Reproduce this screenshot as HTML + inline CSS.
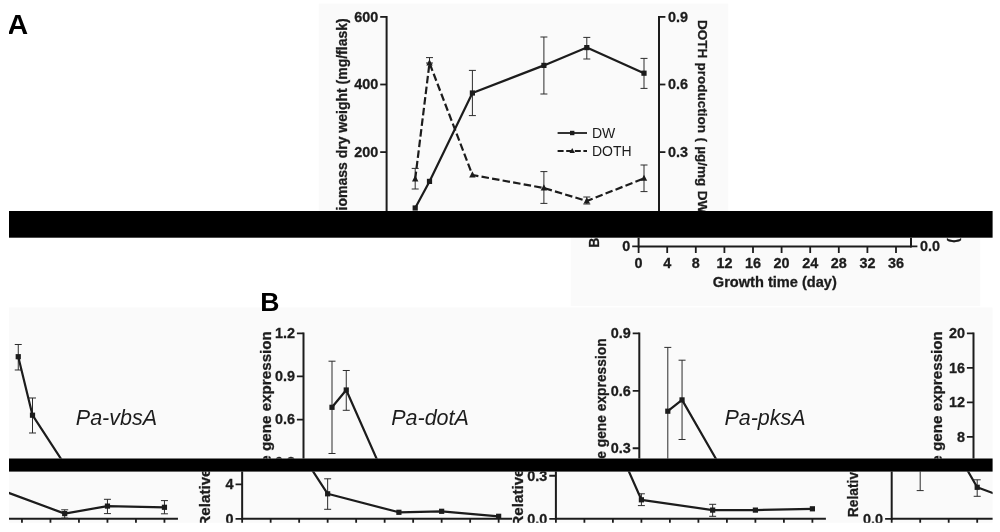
<!DOCTYPE html>
<html lang="en">
<head>
<meta charset="utf-8">
<title>Figure</title>
<style>
html,body{margin:0;padding:0;background:#fff;}
body{width:1000px;height:532px;overflow:hidden;font-family:"Liberation Sans",Arial,sans-serif;}
svg{display:block;}
</style>
</head>
<body>
<svg width="1000" height="532" viewBox="0 0 1000 532" font-family="'Liberation Sans', Arial, sans-serif">
<rect width="1000" height="532" fill="#ffffff"/>
<clipPath id="c0"><rect x="9" y="0" width="983.6" height="211"/></clipPath>
<clipPath id="c1"><rect x="9" y="237.7" width="983.6" height="220.8"/></clipPath>
<clipPath id="c2"><rect x="9" y="471.6" width="983.6" height="51.2"/></clipPath>
<g clip-path="url(#c0)">
<g transform="translate(0,0)"><rect x="318.7" y="3.6" width="409.6" height="275.7" fill="#fafafa"/></g>
<g transform="translate(0,0)"><text transform="translate(7.4,33.8) scale(1.06,1)" font-size="27" font-weight="bold" text-anchor="start" fill="#000">A</text></g>
<g transform="translate(0,0)"><line x1="386.6" y1="16" x2="386.6" y2="220.7" stroke="#1c1c1c" stroke-width="2" stroke-linecap="butt"/></g>
<g transform="translate(0,0)"><line x1="659" y1="16" x2="659" y2="220.7" stroke="#1c1c1c" stroke-width="2" stroke-linecap="butt"/></g>
<g transform="translate(0,0)"><line x1="380.2" y1="16.9" x2="386.6" y2="16.9" stroke="#1c1c1c" stroke-width="1.8" stroke-linecap="butt"/></g>
<g transform="translate(0,0)"><line x1="659" y1="16.9" x2="665.4" y2="16.9" stroke="#1c1c1c" stroke-width="1.8" stroke-linecap="butt"/></g>
<g transform="translate(0,0)"><text transform="translate(378.2,21.7) scale(0.96,1)" font-size="15" font-weight="bold" text-anchor="end" fill="#1c1c1c" stroke="#1c1c1c" stroke-width="0.3">600</text></g>
<g transform="translate(0,0)"><text transform="translate(668,21.7) scale(0.96,1)" font-size="15" font-weight="bold" text-anchor="start" fill="#1c1c1c" stroke="#1c1c1c" stroke-width="0.3">0.9</text></g>
<g transform="translate(0,0)"><line x1="380.2" y1="84.5" x2="386.6" y2="84.5" stroke="#1c1c1c" stroke-width="1.8" stroke-linecap="butt"/></g>
<g transform="translate(0,0)"><line x1="659" y1="84.5" x2="665.4" y2="84.5" stroke="#1c1c1c" stroke-width="1.8" stroke-linecap="butt"/></g>
<g transform="translate(0,0)"><text transform="translate(378.2,89.3) scale(0.96,1)" font-size="15" font-weight="bold" text-anchor="end" fill="#1c1c1c" stroke="#1c1c1c" stroke-width="0.3">400</text></g>
<g transform="translate(0,0)"><text transform="translate(668,89.3) scale(0.96,1)" font-size="15" font-weight="bold" text-anchor="start" fill="#1c1c1c" stroke="#1c1c1c" stroke-width="0.3">0.6</text></g>
<g transform="translate(0,0)"><line x1="380.2" y1="152.1" x2="386.6" y2="152.1" stroke="#1c1c1c" stroke-width="1.8" stroke-linecap="butt"/></g>
<g transform="translate(0,0)"><line x1="659" y1="152.1" x2="665.4" y2="152.1" stroke="#1c1c1c" stroke-width="1.8" stroke-linecap="butt"/></g>
<g transform="translate(0,0)"><text transform="translate(378.2,156.9) scale(0.96,1)" font-size="15" font-weight="bold" text-anchor="end" fill="#1c1c1c" stroke="#1c1c1c" stroke-width="0.3">200</text></g>
<g transform="translate(0,0)"><text transform="translate(668,156.9) scale(0.96,1)" font-size="15" font-weight="bold" text-anchor="start" fill="#1c1c1c" stroke="#1c1c1c" stroke-width="0.3">0.3</text></g>
<g transform="translate(0,0)"><text transform="translate(347.2,18.3) rotate(-90)" font-size="14" font-weight="bold" text-anchor="end" fill="#1c1c1c" stroke="#1c1c1c" stroke-width="0.3">iomass dry weight (mg/flask)</text></g>
<g transform="translate(0,0)"><text transform="translate(698.3,20) rotate(90)" font-size="13.5" font-weight="bold" text-anchor="start" fill="#1c1c1c" word-spacing="0.6" stroke="#1c1c1c" stroke-width="0.3">DOTH production ( µg/mg DW</text></g>
<g transform="translate(0,0)"><line x1="472.4" y1="70.4" x2="472.4" y2="115.6" stroke="#2c2c2c" stroke-width="1" stroke-linecap="butt"/></g>
<g transform="translate(0,0)"><line x1="468.9" y1="70.4" x2="475.9" y2="70.4" stroke="#2c2c2c" stroke-width="1" stroke-linecap="butt"/></g>
<g transform="translate(0,0)"><line x1="468.9" y1="115.6" x2="475.9" y2="115.6" stroke="#2c2c2c" stroke-width="1" stroke-linecap="butt"/></g>
<g transform="translate(0,0)"><line x1="543.9" y1="37" x2="543.9" y2="94" stroke="#2c2c2c" stroke-width="1" stroke-linecap="butt"/></g>
<g transform="translate(0,0)"><line x1="540.4" y1="37" x2="547.4" y2="37" stroke="#2c2c2c" stroke-width="1" stroke-linecap="butt"/></g>
<g transform="translate(0,0)"><line x1="540.4" y1="94" x2="547.4" y2="94" stroke="#2c2c2c" stroke-width="1" stroke-linecap="butt"/></g>
<g transform="translate(0,0)"><line x1="586.8" y1="37.4" x2="586.8" y2="59" stroke="#2c2c2c" stroke-width="1" stroke-linecap="butt"/></g>
<g transform="translate(0,0)"><line x1="583.3" y1="37.4" x2="590.3" y2="37.4" stroke="#2c2c2c" stroke-width="1" stroke-linecap="butt"/></g>
<g transform="translate(0,0)"><line x1="583.3" y1="59" x2="590.3" y2="59" stroke="#2c2c2c" stroke-width="1" stroke-linecap="butt"/></g>
<g transform="translate(0,0)"><line x1="644" y1="58.4" x2="644" y2="88.4" stroke="#2c2c2c" stroke-width="1" stroke-linecap="butt"/></g>
<g transform="translate(0,0)"><line x1="640.5" y1="58.4" x2="647.5" y2="58.4" stroke="#2c2c2c" stroke-width="1" stroke-linecap="butt"/></g>
<g transform="translate(0,0)"><line x1="640.5" y1="88.4" x2="647.5" y2="88.4" stroke="#2c2c2c" stroke-width="1" stroke-linecap="butt"/></g>
<g transform="translate(0,0)"><line x1="415.2" y1="168.4" x2="415.2" y2="189" stroke="#2c2c2c" stroke-width="1" stroke-linecap="butt"/></g>
<g transform="translate(0,0)"><line x1="411.7" y1="168.4" x2="418.7" y2="168.4" stroke="#2c2c2c" stroke-width="1" stroke-linecap="butt"/></g>
<g transform="translate(0,0)"><line x1="411.7" y1="189" x2="418.7" y2="189" stroke="#2c2c2c" stroke-width="1" stroke-linecap="butt"/></g>
<g transform="translate(0,0)"><line x1="429.5" y1="57.6" x2="429.5" y2="63" stroke="#2c2c2c" stroke-width="1" stroke-linecap="butt"/></g>
<g transform="translate(0,0)"><line x1="426" y1="57.6" x2="433" y2="57.6" stroke="#2c2c2c" stroke-width="1" stroke-linecap="butt"/></g>
<g transform="translate(0,0)"><line x1="426" y1="63" x2="433" y2="63" stroke="#2c2c2c" stroke-width="1" stroke-linecap="butt"/></g>
<g transform="translate(0,0)"><line x1="543.9" y1="171.6" x2="543.9" y2="203.4" stroke="#2c2c2c" stroke-width="1" stroke-linecap="butt"/></g>
<g transform="translate(0,0)"><line x1="540.4" y1="171.6" x2="547.4" y2="171.6" stroke="#2c2c2c" stroke-width="1" stroke-linecap="butt"/></g>
<g transform="translate(0,0)"><line x1="540.4" y1="203.4" x2="547.4" y2="203.4" stroke="#2c2c2c" stroke-width="1" stroke-linecap="butt"/></g>
<g transform="translate(0,0)"><line x1="586.8" y1="197" x2="586.8" y2="204" stroke="#2c2c2c" stroke-width="1" stroke-linecap="butt"/></g>
<g transform="translate(0,0)"><line x1="583.3" y1="197" x2="590.3" y2="197" stroke="#2c2c2c" stroke-width="1" stroke-linecap="butt"/></g>
<g transform="translate(0,0)"><line x1="583.3" y1="204" x2="590.3" y2="204" stroke="#2c2c2c" stroke-width="1" stroke-linecap="butt"/></g>
<g transform="translate(0,0)"><line x1="644" y1="165" x2="644" y2="191.6" stroke="#2c2c2c" stroke-width="1" stroke-linecap="butt"/></g>
<g transform="translate(0,0)"><line x1="640.5" y1="165" x2="647.5" y2="165" stroke="#2c2c2c" stroke-width="1" stroke-linecap="butt"/></g>
<g transform="translate(0,0)"><line x1="640.5" y1="191.6" x2="647.5" y2="191.6" stroke="#2c2c2c" stroke-width="1" stroke-linecap="butt"/></g>
<g transform="translate(0,0)"><polyline points="415.2,208 429.5,181.4 472.4,93 543.9,65.4 586.8,47.6 644,73.2" fill="none" stroke="#1c1c1c" stroke-width="2.2" stroke-linejoin="round"/></g>
<g transform="translate(0,0)"><polyline points="415.2,179 429.5,63 472.4,175 543.9,188 586.8,201 644,178.4" fill="none" stroke="#1c1c1c" stroke-width="2.2" stroke-linejoin="round" stroke-dasharray="7.5 3.2"/></g>
<g transform="translate(0,0)"><rect x="412.6" y="205.4" width="5.2" height="5.2" fill="#1c1c1c"/></g>
<g transform="translate(0,0)"><rect x="426.9" y="178.8" width="5.2" height="5.2" fill="#1c1c1c"/></g>
<g transform="translate(0,0)"><rect x="469.8" y="90.4" width="5.2" height="5.2" fill="#1c1c1c"/></g>
<g transform="translate(0,0)"><rect x="541.3" y="62.8" width="5.2" height="5.2" fill="#1c1c1c"/></g>
<g transform="translate(0,0)"><rect x="584.2" y="45" width="5.2" height="5.2" fill="#1c1c1c"/></g>
<g transform="translate(0,0)"><rect x="641.4" y="70.6" width="5.2" height="5.2" fill="#1c1c1c"/></g>
<g transform="translate(0,0)"><polygon points="415.2,175.35 412,181.43 418.4,181.43" fill="#1c1c1c"/></g>
<g transform="translate(0,0)"><polygon points="429.5,59.35 426.3,65.43 432.7,65.43" fill="#1c1c1c"/></g>
<g transform="translate(0,0)"><polygon points="472.4,171.35 469.2,177.43 475.6,177.43" fill="#1c1c1c"/></g>
<g transform="translate(0,0)"><polygon points="543.9,184.35 540.7,190.43 547.1,190.43" fill="#1c1c1c"/></g>
<g transform="translate(0,0)"><polygon points="586.8,197.35 583.6,203.43 590,203.43" fill="#1c1c1c"/></g>
<g transform="translate(0,0)"><polygon points="644,174.75 640.8,180.83 647.2,180.83" fill="#1c1c1c"/></g>
<g transform="translate(0,0)"><line x1="557.6" y1="133" x2="587" y2="133" stroke="#1c1c1c" stroke-width="1.8" stroke-linecap="butt"/></g>
<g transform="translate(0,0)"><rect x="570" y="130.8" width="4.4" height="4.4" fill="#1c1c1c"/></g>
<g transform="translate(0,0)"><line x1="557.6" y1="151" x2="587" y2="151" stroke="#1c1c1c" stroke-width="1.8" stroke-linecap="butt" stroke-dasharray="6 2.6"/></g>
<g transform="translate(0,0)"><polygon points="572.2,147.92 569.5,153.05 574.9,153.05" fill="#1c1c1c"/></g>
<g transform="translate(0,0)"><text transform="translate(592,138)" font-size="14" font-weight="normal" text-anchor="start" fill="#1c1c1c">DW</text></g>
<g transform="translate(0,0)"><text transform="translate(592,156)" font-size="14" font-weight="normal" text-anchor="start" fill="#1c1c1c">DOTH</text></g>
</g>
<g clip-path="url(#c1)">
<g transform="translate(252,26.7)"><rect x="318.7" y="3.6" width="409.6" height="275.7" fill="#fafafa"/></g>
<g transform="translate(252,26.7)"><line x1="386.6" y1="16" x2="386.6" y2="220.7" stroke="#1c1c1c" stroke-width="2" stroke-linecap="butt"/></g>
<g transform="translate(252,26.7)"><line x1="659" y1="16" x2="659" y2="220.7" stroke="#1c1c1c" stroke-width="2" stroke-linecap="butt"/></g>
<g transform="translate(252,26.7)"><line x1="386.6" y1="219.7" x2="659" y2="219.7" stroke="#1c1c1c" stroke-width="2" stroke-linecap="butt"/></g>
<g transform="translate(252,26.7)"><line x1="380.2" y1="219.7" x2="386.6" y2="219.7" stroke="#1c1c1c" stroke-width="1.8" stroke-linecap="butt"/></g>
<g transform="translate(252,26.7)"><line x1="659" y1="219.7" x2="665.4" y2="219.7" stroke="#1c1c1c" stroke-width="1.8" stroke-linecap="butt"/></g>
<g transform="translate(252,26.7)"><text transform="translate(378.2,224.5) scale(0.96,1)" font-size="15" font-weight="bold" text-anchor="end" fill="#1c1c1c" stroke="#1c1c1c" stroke-width="0.3">0</text></g>
<g transform="translate(252,26.7)"><text transform="translate(668,224.5) scale(0.96,1)" font-size="15" font-weight="bold" text-anchor="start" fill="#1c1c1c" stroke="#1c1c1c" stroke-width="0.3">0.0</text></g>
<g transform="translate(252,26.7)"><line x1="386.6" y1="219.7" x2="386.6" y2="226.3" stroke="#1c1c1c" stroke-width="1.8" stroke-linecap="butt"/></g>
<g transform="translate(252,26.7)"><text transform="translate(386.6,241) scale(0.96,1)" font-size="15" font-weight="bold" text-anchor="middle" fill="#1c1c1c" stroke="#1c1c1c" stroke-width="0.3">0</text></g>
<g transform="translate(252,26.7)"><line x1="415.2" y1="219.7" x2="415.2" y2="226.3" stroke="#1c1c1c" stroke-width="1.8" stroke-linecap="butt"/></g>
<g transform="translate(252,26.7)"><text transform="translate(415.2,241) scale(0.96,1)" font-size="15" font-weight="bold" text-anchor="middle" fill="#1c1c1c" stroke="#1c1c1c" stroke-width="0.3">4</text></g>
<g transform="translate(252,26.7)"><line x1="443.8" y1="219.7" x2="443.8" y2="226.3" stroke="#1c1c1c" stroke-width="1.8" stroke-linecap="butt"/></g>
<g transform="translate(252,26.7)"><text transform="translate(443.8,241) scale(0.96,1)" font-size="15" font-weight="bold" text-anchor="middle" fill="#1c1c1c" stroke="#1c1c1c" stroke-width="0.3">8</text></g>
<g transform="translate(252,26.7)"><line x1="472.4" y1="219.7" x2="472.4" y2="226.3" stroke="#1c1c1c" stroke-width="1.8" stroke-linecap="butt"/></g>
<g transform="translate(252,26.7)"><text transform="translate(472.4,241) scale(0.96,1)" font-size="15" font-weight="bold" text-anchor="middle" fill="#1c1c1c" stroke="#1c1c1c" stroke-width="0.3">12</text></g>
<g transform="translate(252,26.7)"><line x1="501" y1="219.7" x2="501" y2="226.3" stroke="#1c1c1c" stroke-width="1.8" stroke-linecap="butt"/></g>
<g transform="translate(252,26.7)"><text transform="translate(501,241) scale(0.96,1)" font-size="15" font-weight="bold" text-anchor="middle" fill="#1c1c1c" stroke="#1c1c1c" stroke-width="0.3">16</text></g>
<g transform="translate(252,26.7)"><line x1="529.6" y1="219.7" x2="529.6" y2="226.3" stroke="#1c1c1c" stroke-width="1.8" stroke-linecap="butt"/></g>
<g transform="translate(252,26.7)"><text transform="translate(529.6,241) scale(0.96,1)" font-size="15" font-weight="bold" text-anchor="middle" fill="#1c1c1c" stroke="#1c1c1c" stroke-width="0.3">20</text></g>
<g transform="translate(252,26.7)"><line x1="558.2" y1="219.7" x2="558.2" y2="226.3" stroke="#1c1c1c" stroke-width="1.8" stroke-linecap="butt"/></g>
<g transform="translate(252,26.7)"><text transform="translate(558.2,241) scale(0.96,1)" font-size="15" font-weight="bold" text-anchor="middle" fill="#1c1c1c" stroke="#1c1c1c" stroke-width="0.3">24</text></g>
<g transform="translate(252,26.7)"><line x1="586.8" y1="219.7" x2="586.8" y2="226.3" stroke="#1c1c1c" stroke-width="1.8" stroke-linecap="butt"/></g>
<g transform="translate(252,26.7)"><text transform="translate(586.8,241) scale(0.96,1)" font-size="15" font-weight="bold" text-anchor="middle" fill="#1c1c1c" stroke="#1c1c1c" stroke-width="0.3">28</text></g>
<g transform="translate(252,26.7)"><line x1="615.4" y1="219.7" x2="615.4" y2="226.3" stroke="#1c1c1c" stroke-width="1.8" stroke-linecap="butt"/></g>
<g transform="translate(252,26.7)"><text transform="translate(615.4,241) scale(0.96,1)" font-size="15" font-weight="bold" text-anchor="middle" fill="#1c1c1c" stroke="#1c1c1c" stroke-width="0.3">32</text></g>
<g transform="translate(252,26.7)"><line x1="644" y1="219.7" x2="644" y2="226.3" stroke="#1c1c1c" stroke-width="1.8" stroke-linecap="butt"/></g>
<g transform="translate(252,26.7)"><text transform="translate(644,241) scale(0.96,1)" font-size="15" font-weight="bold" text-anchor="middle" fill="#1c1c1c" stroke="#1c1c1c" stroke-width="0.3">36</text></g>
<g transform="translate(252,26.7)"><text transform="translate(460.8,260.7)" font-size="14.6" font-weight="bold" text-anchor="start" fill="#1c1c1c" textLength="124" lengthAdjust="spacingAndGlyphs" stroke="#1c1c1c" stroke-width="0.3">Growth time (day)</text></g>
<g transform="translate(252,26.7)"><text transform="translate(347.2,221) rotate(-90)" font-size="14" font-weight="bold" text-anchor="start" fill="#1c1c1c" stroke="#1c1c1c" stroke-width="0.3">B</text></g>
<g transform="translate(252,26.7)"><text transform="translate(698.3,211.6) rotate(90)" font-size="13.8" font-weight="bold" text-anchor="start" fill="#1c1c1c" stroke="#1c1c1c" stroke-width="0.3">)</text></g>
<g transform="translate(252,26.7)"><rect x="9" y="280.8" width="983.75" height="239.2" fill="#fafafa"/></g>
<g transform="translate(-731.75,26.7)"><rect x="9" y="280.8" width="983.75" height="239.2" fill="#fafafa"/></g>
<g transform="translate(252,26.7)"><text transform="translate(8.3,284)" font-size="26.6" font-weight="bold" text-anchor="start" fill="#000">B</text></g>
<g transform="translate(252,26.7)"><line x1="51.5" y1="305.8" x2="51.5" y2="480" stroke="#1c1c1c" stroke-width="2" stroke-linecap="butt"/></g>
<g transform="translate(252,26.7)"><line x1="44.9" y1="306.7" x2="51.5" y2="306.7" stroke="#1c1c1c" stroke-width="1.8" stroke-linecap="butt"/></g>
<g transform="translate(252,26.7)"><text transform="translate(42.9,311.5) scale(0.96,1)" font-size="15" font-weight="bold" text-anchor="end" fill="#1c1c1c" stroke="#1c1c1c" stroke-width="0.3">1.2</text></g>
<g transform="translate(252,26.7)"><line x1="44.9" y1="349.77" x2="51.5" y2="349.77" stroke="#1c1c1c" stroke-width="1.8" stroke-linecap="butt"/></g>
<g transform="translate(252,26.7)"><text transform="translate(42.9,354.57) scale(0.96,1)" font-size="15" font-weight="bold" text-anchor="end" fill="#1c1c1c" stroke="#1c1c1c" stroke-width="0.3">0.9</text></g>
<g transform="translate(252,26.7)"><line x1="44.9" y1="392.85" x2="51.5" y2="392.85" stroke="#1c1c1c" stroke-width="1.8" stroke-linecap="butt"/></g>
<g transform="translate(252,26.7)"><text transform="translate(42.9,397.65) scale(0.96,1)" font-size="15" font-weight="bold" text-anchor="end" fill="#1c1c1c" stroke="#1c1c1c" stroke-width="0.3">0.6</text></g>
<g transform="translate(252,26.7)"><text transform="translate(42.9,440.73) scale(0.96,1)" font-size="15" font-weight="bold" text-anchor="end" fill="#1c1c1c" stroke="#1c1c1c" stroke-width="0.3">0.3</text></g>
<g transform="translate(252,26.7)"><text transform="translate(18.7,304.4) rotate(-90)" font-size="15.2" font-weight="bold" text-anchor="end" fill="#1c1c1c" stroke="#1c1c1c" stroke-width="0.3">e gene expression</text></g>
<g transform="translate(252,26.7)"><text transform="translate(139.2,398.6)" font-size="21.5" font-weight="normal" text-anchor="start" fill="#1c1c1c" font-style="italic">Pa-dotA</text></g>
<g transform="translate(252,26.7)"><line x1="80" y1="334.5" x2="80" y2="426.8" stroke="#2c2c2c" stroke-width="1" stroke-linecap="butt"/></g>
<g transform="translate(252,26.7)"><line x1="76.5" y1="334.5" x2="83.5" y2="334.5" stroke="#2c2c2c" stroke-width="1" stroke-linecap="butt"/></g>
<g transform="translate(252,26.7)"><line x1="76.5" y1="426.8" x2="83.5" y2="426.8" stroke="#2c2c2c" stroke-width="1" stroke-linecap="butt"/></g>
<g transform="translate(252,26.7)"><line x1="94.25" y1="343.8" x2="94.25" y2="383.6" stroke="#2c2c2c" stroke-width="1" stroke-linecap="butt"/></g>
<g transform="translate(252,26.7)"><line x1="90.75" y1="343.8" x2="97.75" y2="343.8" stroke="#2c2c2c" stroke-width="1" stroke-linecap="butt"/></g>
<g transform="translate(252,26.7)"><line x1="90.75" y1="383.6" x2="97.75" y2="383.6" stroke="#2c2c2c" stroke-width="1" stroke-linecap="butt"/></g>
<g transform="translate(252,26.7)"><polyline points="80,380.6 94.25,363.3 137,460 208.25,470.3 251,470.3 308,469" fill="none" stroke="#1c1c1c" stroke-width="2.2" stroke-linejoin="round"/></g>
<g transform="translate(252,26.7)"><rect x="77.4" y="378" width="5.2" height="5.2" fill="#1c1c1c"/></g>
<g transform="translate(252,26.7)"><rect x="91.65" y="360.7" width="5.2" height="5.2" fill="#1c1c1c"/></g>
<g transform="translate(252,26.7)"><line x1="387.3" y1="305.8" x2="387.3" y2="480" stroke="#1c1c1c" stroke-width="2" stroke-linecap="butt"/></g>
<g transform="translate(252,26.7)"><line x1="380.7" y1="306.7" x2="387.3" y2="306.7" stroke="#1c1c1c" stroke-width="1.8" stroke-linecap="butt"/></g>
<g transform="translate(252,26.7)"><text transform="translate(378.7,311.5) scale(0.96,1)" font-size="15" font-weight="bold" text-anchor="end" fill="#1c1c1c" stroke="#1c1c1c" stroke-width="0.3">0.9</text></g>
<g transform="translate(252,26.7)"><line x1="380.7" y1="364.13" x2="387.3" y2="364.13" stroke="#1c1c1c" stroke-width="1.8" stroke-linecap="butt"/></g>
<g transform="translate(252,26.7)"><text transform="translate(378.7,368.93) scale(0.96,1)" font-size="15" font-weight="bold" text-anchor="end" fill="#1c1c1c" stroke="#1c1c1c" stroke-width="0.3">0.6</text></g>
<g transform="translate(252,26.7)"><line x1="380.7" y1="421.57" x2="387.3" y2="421.57" stroke="#1c1c1c" stroke-width="1.8" stroke-linecap="butt"/></g>
<g transform="translate(252,26.7)"><text transform="translate(378.7,426.37) scale(0.96,1)" font-size="15" font-weight="bold" text-anchor="end" fill="#1c1c1c" stroke="#1c1c1c" stroke-width="0.3">0.3</text></g>
<g transform="translate(252,26.7)"><text transform="translate(353.9,311.7) rotate(-90)" font-size="13.8" font-weight="bold" text-anchor="end" fill="#1c1c1c" stroke="#1c1c1c" stroke-width="0.3">e gene expression</text></g>
<g transform="translate(252,26.7)"><text transform="translate(472.4,398.6)" font-size="21.5" font-weight="normal" text-anchor="start" fill="#1c1c1c" font-style="italic">Pa-pksA</text></g>
<g transform="translate(252,26.7)"><line x1="415.8" y1="320.7" x2="415.8" y2="450.8" stroke="#2c2c2c" stroke-width="1" stroke-linecap="butt"/></g>
<g transform="translate(252,26.7)"><line x1="412.3" y1="320.7" x2="419.3" y2="320.7" stroke="#2c2c2c" stroke-width="1" stroke-linecap="butt"/></g>
<g transform="translate(252,26.7)"><line x1="430.05" y1="333.5" x2="430.05" y2="412.8" stroke="#2c2c2c" stroke-width="1" stroke-linecap="butt"/></g>
<g transform="translate(252,26.7)"><line x1="426.55" y1="333.5" x2="433.55" y2="333.5" stroke="#2c2c2c" stroke-width="1" stroke-linecap="butt"/></g>
<g transform="translate(252,26.7)"><line x1="426.55" y1="412.8" x2="433.55" y2="412.8" stroke="#2c2c2c" stroke-width="1" stroke-linecap="butt"/></g>
<g transform="translate(252,26.7)"><polyline points="415.8,384.5 430.05,373.2 472.8,447.5 544.05,473.8 586.8,466.3 643.8,467.5" fill="none" stroke="#1c1c1c" stroke-width="2.2" stroke-linejoin="round"/></g>
<g transform="translate(252,26.7)"><rect x="413.2" y="381.9" width="5.2" height="5.2" fill="#1c1c1c"/></g>
<g transform="translate(252,26.7)"><rect x="427.45" y="370.6" width="5.2" height="5.2" fill="#1c1c1c"/></g>
<g transform="translate(252,26.7)"><line x1="721.5" y1="305.8" x2="721.5" y2="480" stroke="#1c1c1c" stroke-width="2" stroke-linecap="butt"/></g>
<g transform="translate(252,26.7)"><line x1="714.9" y1="306.7" x2="721.5" y2="306.7" stroke="#1c1c1c" stroke-width="1.8" stroke-linecap="butt"/></g>
<g transform="translate(252,26.7)"><text transform="translate(712.9,311.5) scale(0.96,1)" font-size="15" font-weight="bold" text-anchor="end" fill="#1c1c1c" stroke="#1c1c1c" stroke-width="0.3">20</text></g>
<g transform="translate(252,26.7)"><line x1="714.9" y1="341.16" x2="721.5" y2="341.16" stroke="#1c1c1c" stroke-width="1.8" stroke-linecap="butt"/></g>
<g transform="translate(252,26.7)"><text transform="translate(712.9,345.96) scale(0.96,1)" font-size="15" font-weight="bold" text-anchor="end" fill="#1c1c1c" stroke="#1c1c1c" stroke-width="0.3">16</text></g>
<g transform="translate(252,26.7)"><line x1="714.9" y1="375.62" x2="721.5" y2="375.62" stroke="#1c1c1c" stroke-width="1.8" stroke-linecap="butt"/></g>
<g transform="translate(252,26.7)"><text transform="translate(712.9,380.42) scale(0.96,1)" font-size="15" font-weight="bold" text-anchor="end" fill="#1c1c1c" stroke="#1c1c1c" stroke-width="0.3">12</text></g>
<g transform="translate(252,26.7)"><line x1="714.9" y1="410.08" x2="721.5" y2="410.08" stroke="#1c1c1c" stroke-width="1.8" stroke-linecap="butt"/></g>
<g transform="translate(252,26.7)"><text transform="translate(712.9,414.88) scale(0.96,1)" font-size="15" font-weight="bold" text-anchor="end" fill="#1c1c1c" stroke="#1c1c1c" stroke-width="0.3">8</text></g>
<g transform="translate(252,26.7)"><text transform="translate(689.5,304.4) rotate(-90)" font-size="15.2" font-weight="bold" text-anchor="end" fill="#1c1c1c" stroke="#1c1c1c" stroke-width="0.3">e gene expression</text></g>
<g transform="translate(-731.75,26.7)"><text transform="translate(807.55,398.6)" font-size="21.5" font-weight="normal" text-anchor="start" fill="#1c1c1c" font-style="italic">Pa-vbsA</text></g>
<g transform="translate(-731.75,26.7)"><line x1="750" y1="317.8" x2="750" y2="343.3" stroke="#2c2c2c" stroke-width="1" stroke-linecap="butt"/></g>
<g transform="translate(-731.75,26.7)"><line x1="746.5" y1="317.8" x2="753.5" y2="317.8" stroke="#2c2c2c" stroke-width="1" stroke-linecap="butt"/></g>
<g transform="translate(-731.75,26.7)"><line x1="746.5" y1="343.3" x2="753.5" y2="343.3" stroke="#2c2c2c" stroke-width="1" stroke-linecap="butt"/></g>
<g transform="translate(-731.75,26.7)"><line x1="764.25" y1="371.3" x2="764.25" y2="406.3" stroke="#2c2c2c" stroke-width="1" stroke-linecap="butt"/></g>
<g transform="translate(-731.75,26.7)"><line x1="760.75" y1="371.3" x2="767.75" y2="371.3" stroke="#2c2c2c" stroke-width="1" stroke-linecap="butt"/></g>
<g transform="translate(-731.75,26.7)"><line x1="760.75" y1="406.3" x2="767.75" y2="406.3" stroke="#2c2c2c" stroke-width="1" stroke-linecap="butt"/></g>
<g transform="translate(-731.75,26.7)"><polyline points="750,330 764.25,388.5 807,454 878.25,472.5 921,471.5 978,476.5" fill="none" stroke="#1c1c1c" stroke-width="2.2" stroke-linejoin="round"/></g>
<g transform="translate(-731.75,26.7)"><rect x="747.4" y="327.4" width="5.2" height="5.2" fill="#1c1c1c"/></g>
<g transform="translate(-731.75,26.7)"><rect x="761.65" y="385.9" width="5.2" height="5.2" fill="#1c1c1c"/></g>
</g>
<g clip-path="url(#c2)">
<g transform="translate(504.4,39.8)"><rect x="9" y="280.8" width="983.75" height="239.2" fill="#fafafa"/></g>
<g transform="translate(-479.35,39.8)"><rect x="9" y="280.8" width="983.75" height="239.2" fill="#fafafa"/></g>
<g transform="translate(504.4,39.8)"><line x1="51.5" y1="305.8" x2="51.5" y2="480" stroke="#1c1c1c" stroke-width="2" stroke-linecap="butt"/></g>
<g transform="translate(504.4,39.8)"><line x1="51.5" y1="479" x2="321.5" y2="479" stroke="#1c1c1c" stroke-width="2" stroke-linecap="butt"/></g>
<g transform="translate(504.4,39.8)"><line x1="44.9" y1="435.93" x2="51.5" y2="435.93" stroke="#1c1c1c" stroke-width="1.8" stroke-linecap="butt"/></g>
<g transform="translate(504.4,39.8)"><text transform="translate(42.9,440.73) scale(0.96,1)" font-size="15" font-weight="bold" text-anchor="end" fill="#1c1c1c" stroke="#1c1c1c" stroke-width="0.3">0.3</text></g>
<g transform="translate(504.4,39.8)"><line x1="44.9" y1="479" x2="51.5" y2="479" stroke="#1c1c1c" stroke-width="1.8" stroke-linecap="butt"/></g>
<g transform="translate(504.4,39.8)"><text transform="translate(42.9,483.8) scale(0.96,1)" font-size="15" font-weight="bold" text-anchor="end" fill="#1c1c1c" stroke="#1c1c1c" stroke-width="0.3">0.0</text></g>
<g transform="translate(504.4,39.8)"><line x1="51.5" y1="479" x2="51.5" y2="484.6" stroke="#1c1c1c" stroke-width="1.8" stroke-linecap="butt"/></g>
<g transform="translate(504.4,39.8)"><line x1="80" y1="479" x2="80" y2="484.6" stroke="#1c1c1c" stroke-width="1.8" stroke-linecap="butt"/></g>
<g transform="translate(504.4,39.8)"><line x1="108.5" y1="479" x2="108.5" y2="484.6" stroke="#1c1c1c" stroke-width="1.8" stroke-linecap="butt"/></g>
<g transform="translate(504.4,39.8)"><line x1="137" y1="479" x2="137" y2="484.6" stroke="#1c1c1c" stroke-width="1.8" stroke-linecap="butt"/></g>
<g transform="translate(504.4,39.8)"><line x1="165.5" y1="479" x2="165.5" y2="484.6" stroke="#1c1c1c" stroke-width="1.8" stroke-linecap="butt"/></g>
<g transform="translate(504.4,39.8)"><line x1="194" y1="479" x2="194" y2="484.6" stroke="#1c1c1c" stroke-width="1.8" stroke-linecap="butt"/></g>
<g transform="translate(504.4,39.8)"><line x1="222.5" y1="479" x2="222.5" y2="484.6" stroke="#1c1c1c" stroke-width="1.8" stroke-linecap="butt"/></g>
<g transform="translate(504.4,39.8)"><line x1="251" y1="479" x2="251" y2="484.6" stroke="#1c1c1c" stroke-width="1.8" stroke-linecap="butt"/></g>
<g transform="translate(504.4,39.8)"><line x1="279.5" y1="479" x2="279.5" y2="484.6" stroke="#1c1c1c" stroke-width="1.8" stroke-linecap="butt"/></g>
<g transform="translate(504.4,39.8)"><line x1="308" y1="479" x2="308" y2="484.6" stroke="#1c1c1c" stroke-width="1.8" stroke-linecap="butt"/></g>
<g transform="translate(504.4,39.8)"><text transform="translate(18.7,486.88) rotate(-90)" font-size="15.2" font-weight="bold" text-anchor="start" fill="#1c1c1c" stroke="#1c1c1c" stroke-width="0.3">Relative</text></g>
<g transform="translate(504.4,39.8)"><line x1="137" y1="454" x2="137" y2="465.8" stroke="#2c2c2c" stroke-width="1" stroke-linecap="butt"/></g>
<g transform="translate(504.4,39.8)"><line x1="133.5" y1="454" x2="140.5" y2="454" stroke="#2c2c2c" stroke-width="1" stroke-linecap="butt"/></g>
<g transform="translate(504.4,39.8)"><line x1="133.5" y1="465.8" x2="140.5" y2="465.8" stroke="#2c2c2c" stroke-width="1" stroke-linecap="butt"/></g>
<g transform="translate(504.4,39.8)"><line x1="208.25" y1="464.5" x2="208.25" y2="476.5" stroke="#2c2c2c" stroke-width="1" stroke-linecap="butt"/></g>
<g transform="translate(504.4,39.8)"><line x1="204.75" y1="464.5" x2="211.75" y2="464.5" stroke="#2c2c2c" stroke-width="1" stroke-linecap="butt"/></g>
<g transform="translate(504.4,39.8)"><line x1="204.75" y1="476.5" x2="211.75" y2="476.5" stroke="#2c2c2c" stroke-width="1" stroke-linecap="butt"/></g>
<g transform="translate(504.4,39.8)"><polyline points="80,380.6 94.25,363.3 137,460 208.25,470.3 251,470.3 308,469" fill="none" stroke="#1c1c1c" stroke-width="2.2" stroke-linejoin="round"/></g>
<g transform="translate(504.4,39.8)"><rect x="134.4" y="457.4" width="5.2" height="5.2" fill="#1c1c1c"/></g>
<g transform="translate(504.4,39.8)"><rect x="205.65" y="467.7" width="5.2" height="5.2" fill="#1c1c1c"/></g>
<g transform="translate(504.4,39.8)"><rect x="248.4" y="467.7" width="5.2" height="5.2" fill="#1c1c1c"/></g>
<g transform="translate(504.4,39.8)"><rect x="305.4" y="466.4" width="5.2" height="5.2" fill="#1c1c1c"/></g>
<g transform="translate(504.4,39.8)"><line x1="387.3" y1="305.8" x2="387.3" y2="480" stroke="#1c1c1c" stroke-width="2" stroke-linecap="butt"/></g>
<g transform="translate(504.4,39.8)"><line x1="387.3" y1="479" x2="657.3" y2="479" stroke="#1c1c1c" stroke-width="2" stroke-linecap="butt"/></g>
<g transform="translate(-479.35,39.8)"><line x1="387.3" y1="479" x2="657.3" y2="479" stroke="#1c1c1c" stroke-width="2" stroke-linecap="butt"/></g>
<g transform="translate(504.4,39.8)"><line x1="380.7" y1="479" x2="387.3" y2="479" stroke="#1c1c1c" stroke-width="1.8" stroke-linecap="butt"/></g>
<g transform="translate(504.4,39.8)"><text transform="translate(378.7,483.8) scale(0.96,1)" font-size="15" font-weight="bold" text-anchor="end" fill="#1c1c1c" stroke="#1c1c1c" stroke-width="0.3">0.0</text></g>
<g transform="translate(504.4,39.8)"><line x1="387.3" y1="479" x2="387.3" y2="484.6" stroke="#1c1c1c" stroke-width="1.8" stroke-linecap="butt"/></g>
<g transform="translate(504.4,39.8)"><line x1="415.8" y1="479" x2="415.8" y2="484.6" stroke="#1c1c1c" stroke-width="1.8" stroke-linecap="butt"/></g>
<g transform="translate(504.4,39.8)"><line x1="444.3" y1="479" x2="444.3" y2="484.6" stroke="#1c1c1c" stroke-width="1.8" stroke-linecap="butt"/></g>
<g transform="translate(504.4,39.8)"><line x1="472.8" y1="479" x2="472.8" y2="484.6" stroke="#1c1c1c" stroke-width="1.8" stroke-linecap="butt"/></g>
<g transform="translate(-479.35,39.8)"><line x1="501.3" y1="479" x2="501.3" y2="484.6" stroke="#1c1c1c" stroke-width="1.8" stroke-linecap="butt"/></g>
<g transform="translate(-479.35,39.8)"><line x1="529.8" y1="479" x2="529.8" y2="484.6" stroke="#1c1c1c" stroke-width="1.8" stroke-linecap="butt"/></g>
<g transform="translate(-479.35,39.8)"><line x1="558.3" y1="479" x2="558.3" y2="484.6" stroke="#1c1c1c" stroke-width="1.8" stroke-linecap="butt"/></g>
<g transform="translate(-479.35,39.8)"><line x1="586.8" y1="479" x2="586.8" y2="484.6" stroke="#1c1c1c" stroke-width="1.8" stroke-linecap="butt"/></g>
<g transform="translate(-479.35,39.8)"><line x1="615.3" y1="479" x2="615.3" y2="484.6" stroke="#1c1c1c" stroke-width="1.8" stroke-linecap="butt"/></g>
<g transform="translate(-479.35,39.8)"><line x1="643.8" y1="479" x2="643.8" y2="484.6" stroke="#1c1c1c" stroke-width="1.8" stroke-linecap="butt"/></g>
<g transform="translate(504.4,39.8)"><text transform="translate(353.9,477.37) rotate(-90)" font-size="13.8" font-weight="bold" text-anchor="start" fill="#1c1c1c" stroke="#1c1c1c" stroke-width="0.3">Relative</text></g>
<g transform="translate(504.4,39.8)"><line x1="415.8" y1="320.7" x2="415.8" y2="450.8" stroke="#2c2c2c" stroke-width="1" stroke-linecap="butt"/></g>
<g transform="translate(504.4,39.8)"><line x1="412.3" y1="450.8" x2="419.3" y2="450.8" stroke="#2c2c2c" stroke-width="1" stroke-linecap="butt"/></g>
<g transform="translate(504.4,39.8)"><line x1="472.8" y1="440" x2="472.8" y2="456.5" stroke="#2c2c2c" stroke-width="1" stroke-linecap="butt"/></g>
<g transform="translate(504.4,39.8)"><line x1="469.3" y1="440" x2="476.3" y2="440" stroke="#2c2c2c" stroke-width="1" stroke-linecap="butt"/></g>
<g transform="translate(504.4,39.8)"><line x1="469.3" y1="456.5" x2="476.3" y2="456.5" stroke="#2c2c2c" stroke-width="1" stroke-linecap="butt"/></g>
<g transform="translate(-479.35,39.8)"><line x1="544.05" y1="470" x2="544.05" y2="478.3" stroke="#2c2c2c" stroke-width="1" stroke-linecap="butt"/></g>
<g transform="translate(-479.35,39.8)"><line x1="540.55" y1="470" x2="547.55" y2="470" stroke="#2c2c2c" stroke-width="1" stroke-linecap="butt"/></g>
<g transform="translate(-479.35,39.8)"><line x1="540.55" y1="478.3" x2="547.55" y2="478.3" stroke="#2c2c2c" stroke-width="1" stroke-linecap="butt"/></g>
<g transform="translate(-479.35,39.8)"><line x1="586.8" y1="459.5" x2="586.8" y2="473.8" stroke="#2c2c2c" stroke-width="1" stroke-linecap="butt"/></g>
<g transform="translate(-479.35,39.8)"><line x1="583.3" y1="459.5" x2="590.3" y2="459.5" stroke="#2c2c2c" stroke-width="1" stroke-linecap="butt"/></g>
<g transform="translate(-479.35,39.8)"><line x1="583.3" y1="473.8" x2="590.3" y2="473.8" stroke="#2c2c2c" stroke-width="1" stroke-linecap="butt"/></g>
<g transform="translate(-479.35,39.8)"><line x1="643.8" y1="460.8" x2="643.8" y2="474" stroke="#2c2c2c" stroke-width="1" stroke-linecap="butt"/></g>
<g transform="translate(-479.35,39.8)"><line x1="640.3" y1="460.8" x2="647.3" y2="460.8" stroke="#2c2c2c" stroke-width="1" stroke-linecap="butt"/></g>
<g transform="translate(-479.35,39.8)"><line x1="640.3" y1="474" x2="647.3" y2="474" stroke="#2c2c2c" stroke-width="1" stroke-linecap="butt"/></g>
<g transform="translate(504.4,39.8)"><polyline points="415.8,384.5 430.05,373.2 472.8,447.5 544.05,473.8 586.8,466.3 643.8,467.5" fill="none" stroke="#1c1c1c" stroke-width="2.2" stroke-linejoin="round"/></g>
<g transform="translate(-479.35,39.8)"><polyline points="415.8,384.5 430.05,373.2 472.8,447.5 544.05,473.8 586.8,466.3 643.8,467.5" fill="none" stroke="#1c1c1c" stroke-width="2.2" stroke-linejoin="round"/></g>
<g transform="translate(504.4,39.8)"><rect x="470.2" y="444.9" width="5.2" height="5.2" fill="#1c1c1c"/></g>
<g transform="translate(-479.35,39.8)"><rect x="541.45" y="471.2" width="5.2" height="5.2" fill="#1c1c1c"/></g>
<g transform="translate(-479.35,39.8)"><rect x="584.2" y="463.7" width="5.2" height="5.2" fill="#1c1c1c"/></g>
<g transform="translate(-479.35,39.8)"><rect x="641.2" y="464.9" width="5.2" height="5.2" fill="#1c1c1c"/></g>
<g transform="translate(-479.35,39.8)"><line x1="721.5" y1="305.8" x2="721.5" y2="480" stroke="#1c1c1c" stroke-width="2" stroke-linecap="butt"/></g>
<g transform="translate(-479.35,39.8)"><line x1="721.5" y1="479" x2="991.5" y2="479" stroke="#1c1c1c" stroke-width="2" stroke-linecap="butt"/></g>
<g transform="translate(-479.35,39.8)"><line x1="714.9" y1="444.54" x2="721.5" y2="444.54" stroke="#1c1c1c" stroke-width="1.8" stroke-linecap="butt"/></g>
<g transform="translate(-479.35,39.8)"><text transform="translate(712.9,449.34) scale(0.96,1)" font-size="15" font-weight="bold" text-anchor="end" fill="#1c1c1c" stroke="#1c1c1c" stroke-width="0.3">4</text></g>
<g transform="translate(-479.35,39.8)"><line x1="714.9" y1="479" x2="721.5" y2="479" stroke="#1c1c1c" stroke-width="1.8" stroke-linecap="butt"/></g>
<g transform="translate(-479.35,39.8)"><text transform="translate(712.9,483.8) scale(0.96,1)" font-size="15" font-weight="bold" text-anchor="end" fill="#1c1c1c" stroke="#1c1c1c" stroke-width="0.3">0</text></g>
<g transform="translate(-479.35,39.8)"><line x1="721.5" y1="479" x2="721.5" y2="484.6" stroke="#1c1c1c" stroke-width="1.8" stroke-linecap="butt"/></g>
<g transform="translate(-479.35,39.8)"><line x1="750" y1="479" x2="750" y2="484.6" stroke="#1c1c1c" stroke-width="1.8" stroke-linecap="butt"/></g>
<g transform="translate(-479.35,39.8)"><line x1="778.5" y1="479" x2="778.5" y2="484.6" stroke="#1c1c1c" stroke-width="1.8" stroke-linecap="butt"/></g>
<g transform="translate(-479.35,39.8)"><line x1="807" y1="479" x2="807" y2="484.6" stroke="#1c1c1c" stroke-width="1.8" stroke-linecap="butt"/></g>
<g transform="translate(-479.35,39.8)"><line x1="835.5" y1="479" x2="835.5" y2="484.6" stroke="#1c1c1c" stroke-width="1.8" stroke-linecap="butt"/></g>
<g transform="translate(-479.35,39.8)"><line x1="864" y1="479" x2="864" y2="484.6" stroke="#1c1c1c" stroke-width="1.8" stroke-linecap="butt"/></g>
<g transform="translate(-479.35,39.8)"><line x1="892.5" y1="479" x2="892.5" y2="484.6" stroke="#1c1c1c" stroke-width="1.8" stroke-linecap="butt"/></g>
<g transform="translate(-479.35,39.8)"><line x1="921" y1="479" x2="921" y2="484.6" stroke="#1c1c1c" stroke-width="1.8" stroke-linecap="butt"/></g>
<g transform="translate(-479.35,39.8)"><line x1="949.5" y1="479" x2="949.5" y2="484.6" stroke="#1c1c1c" stroke-width="1.8" stroke-linecap="butt"/></g>
<g transform="translate(-479.35,39.8)"><line x1="978" y1="479" x2="978" y2="484.6" stroke="#1c1c1c" stroke-width="1.8" stroke-linecap="butt"/></g>
<g transform="translate(-479.35,39.8)"><text transform="translate(689.5,486.88) rotate(-90)" font-size="15.2" font-weight="bold" text-anchor="start" fill="#1c1c1c" stroke="#1c1c1c" stroke-width="0.3">Relative</text></g>
<g transform="translate(-479.35,39.8)"><line x1="807" y1="439" x2="807" y2="469.5" stroke="#2c2c2c" stroke-width="1" stroke-linecap="butt"/></g>
<g transform="translate(-479.35,39.8)"><line x1="803.5" y1="439" x2="810.5" y2="439" stroke="#2c2c2c" stroke-width="1" stroke-linecap="butt"/></g>
<g transform="translate(-479.35,39.8)"><line x1="803.5" y1="469.5" x2="810.5" y2="469.5" stroke="#2c2c2c" stroke-width="1" stroke-linecap="butt"/></g>
<g transform="translate(-479.35,39.8)"><polyline points="750,330 764.25,388.5 807,454 878.25,472.5 921,471.5 978,476.5" fill="none" stroke="#1c1c1c" stroke-width="2.2" stroke-linejoin="round"/></g>
<g transform="translate(-479.35,39.8)"><rect x="804.4" y="451.4" width="5.2" height="5.2" fill="#1c1c1c"/></g>
<g transform="translate(-479.35,39.8)"><rect x="875.65" y="469.9" width="5.2" height="5.2" fill="#1c1c1c"/></g>
<g transform="translate(-479.35,39.8)"><rect x="918.4" y="468.9" width="5.2" height="5.2" fill="#1c1c1c"/></g>
<g transform="translate(-479.35,39.8)"><rect x="975.4" y="473.9" width="5.2" height="5.2" fill="#1c1c1c"/></g>
</g>
<rect x="9" y="211" width="983.6" height="26.7" fill="#000"/>
<rect x="9" y="458.5" width="983.6" height="13.1" fill="#000"/>
</svg>
</body>
</html>
